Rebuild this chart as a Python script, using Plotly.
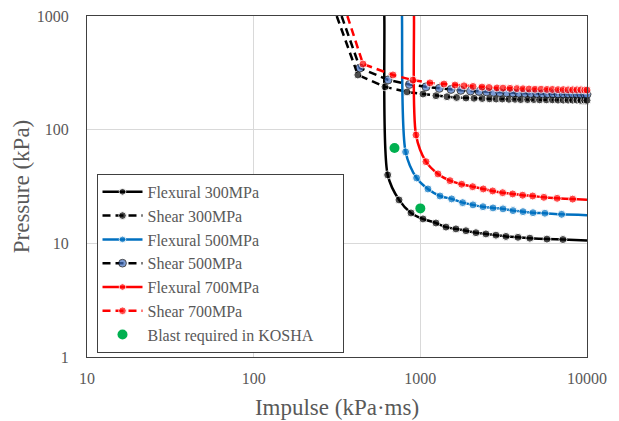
import plotly.graph_objects as go

# ---- data ----
flex300_x = [600, 608, 637, 745, 879, 1037, 1241, 1425, 1636, 1878, 2156, 2475, 2842, 3264, 3853, 4540, 5750, 7170, 10000]
flex300_y = [3000, 1000, 40.0, 24.1, 18.5, 16.4, 15.1, 13.9, 13.4, 12.9, 12.4, 12.1, 11.8, 11.5, 11.3, 11.1, 10.9, 10.8, 10.6]

flex500_x = [770, 776, 816, 950, 1111, 1312, 1541, 1794, 2069, 2376, 2729, 3133, 3597, 4130, 4742, 5590, 7040, 10000]
flex500_y = [3000, 1000, 63.7, 37.6, 30.1, 26.1, 24.6, 22.8, 21.8, 21.0, 20.5, 20.1, 19.4, 19.0, 18.6, 18.4, 18.0, 17.7]

flex700_x = [910, 916, 942, 1081, 1276, 1506, 1770, 2060, 2385, 2716, 3117, 3580, 4110, 4720, 5510, 6620, 8200, 10000]
flex700_y = [3000, 1000, 89.8, 52.3, 40.8, 35.6, 33.1, 31.5, 30.1, 28.9, 27.9, 27.2, 26.5, 26.1, 25.4, 24.9, 24.5, 24.2]

shear300_x = [315, 422, 614, 832, 1037, 1241, 1445, 1650, 1880, 2100, 2350, 2600, 2850, 3100, 3400, 3700, 4000, 4400, 4800, 5200, 5700, 6200, 6700, 7200, 7700, 8200, 8700, 9200, 9700, 10000]
shear300_y = [1000, 303, 238, 215, 206, 199, 195, 192, 190, 189, 188, 187, 186, 186, 185, 185, 184, 184, 184, 183, 183, 183, 182, 182, 182, 182, 182, 181, 181, 181]

shear500_x = [337, 434, 640, 860, 1081, 1300, 1528, 1750, 2000, 2250, 2500, 2750, 3000, 3300, 3600, 3900, 4250, 4600, 5000, 5400, 5800, 6250, 6700, 7200, 7700, 8200, 8700, 9200, 9700, 10000]
shear500_y = [1000, 349, 274, 250, 238, 231, 226, 222, 219, 217, 215, 213, 212, 211, 210, 209, 209, 208, 208, 207, 207, 207, 206, 206, 206, 206, 206, 205, 205, 205]

shear700_x = [365, 453, 685, 903, 1142, 1387, 1614, 1828, 2070, 2344, 2583, 2884, 3133, 3451, 3800, 4130, 4488, 4877, 5300, 5754, 6200, 6700, 7200, 7700, 8200, 8700, 9200, 9700, 10000]
shear700_y = [1000, 378, 303, 273, 258, 252, 247, 243, 240, 237, 235, 233, 232, 231, 230, 229, 228, 227, 227, 226, 226, 225, 225, 224, 224, 224, 224, 223, 223]

kosha_x = [700, 1000]
kosha_y = [69, 20.3]

names = ["Flexural 300MPa", "Shear 300MPa", "Flexural 500MPa", "Shear 500MPa",
         "Flexural 700MPa", "Shear 700MPa", "Blast required in KOSHA"]

GRAY = "#595959"
FONT = "Liberation Serif"
PAD = "\u00a0" * 6  # invisible padding so the legend box is as wide as the reference

def flex_sizes(xs, ys):
    return [0 if (y >= 1000 or x >= 10000) else 8 for x, y in zip(xs, ys)]

def shear_sizes(xs, ys):
    return [0 if y >= 1000 else 8 for x, y in zip(xs, ys)]

fig = go.Figure()

def add_flex(xs, ys, color, name):
    fig.add_trace(go.Scatter(
        x=xs, y=ys, name=name, mode="lines+markers",
        line=dict(color=color, width=2.5, shape="spline", smoothing=0.8),
        marker=dict(color=color, size=flex_sizes(xs, ys)),
    ))

def add_shear(xs, ys, lcolor, mcolor, name):
    fig.add_trace(go.Scatter(
        x=xs, y=ys, name=name, mode="lines+markers",
        line=dict(color=lcolor, width=2.5, dash="8px,5px"),
        marker=dict(color=mcolor, size=shear_sizes(xs, ys)),
        cliponaxis=False,
    ))

add_flex(flex300_x, flex300_y, "#000000", names[0])
add_shear(shear300_x, shear300_y, "#000000", "#000000", names[1])
add_flex(flex500_x, flex500_y, "#0070C0", names[2])
add_shear(shear500_x, shear500_y, "#000000", "#4472C4", names[3])
add_flex(flex700_x, flex700_y, "#FF0000", names[4])
add_shear(shear700_x, shear700_y, "#FF0000", "#FF0000", names[5])
fig.add_trace(go.Scatter(
    x=kosha_x, y=kosha_y, name=names[6] + PAD, mode="markers",
    marker=dict(color="#00B050", size=10),
))

fig.update_layout(
    width=619, height=421,
    margin=dict(l=87, r=32, t=16, b=64, autoexpand=False),
    paper_bgcolor="white", plot_bgcolor="white",
    font=dict(family=FONT, color=GRAY, size=16),
    showlegend=True,
    legend=dict(
        x=0.019, y=0.537, xanchor="left", yanchor="top",
        bgcolor="white", bordercolor="#404040", borderwidth=1,
        font=dict(family=FONT, color=GRAY, size=16),
        tracegroupgap=0, itemwidth=40,
    ),
)

fig.update_xaxes(
    type="log", range=[1, 4],
    tickvals=[10, 100, 1000, 10000], ticktext=["10", "100", "1000", "10000"],
    showgrid=True, gridcolor="#D9D9D9", gridwidth=1,
    showline=True, linecolor="#404040", linewidth=1, mirror=True,
    ticks="", ticklabelstandoff=7,
    tickfont=dict(family=FONT, color=GRAY, size=16),
    title=dict(text="Impulse (kPa·ms)", font=dict(family=FONT, color=GRAY, size=23), standoff=12),
    zeroline=False, automargin=False,
)
fig.update_yaxes(
    type="log", range=[0, 3],
    tickvals=[1, 10, 100, 1000], ticktext=["1", "10", "100", "1000"],
    showgrid=True, gridcolor="#D9D9D9", gridwidth=1,
    showline=True, linecolor="#404040", linewidth=1, mirror=True,
    ticks="", ticklabelstandoff=14,
    tickfont=dict(family=FONT, color=GRAY, size=16),
    title=dict(text="Pressure (kPa)", font=dict(family=FONT, color=GRAY, size=23), standoff=0),
    zeroline=False, automargin=False,
)

fig.write_html("out.html", config={"displayModeBar": False},
               post_script="document.body.style.margin='0';document.body.style.padding='0';")
